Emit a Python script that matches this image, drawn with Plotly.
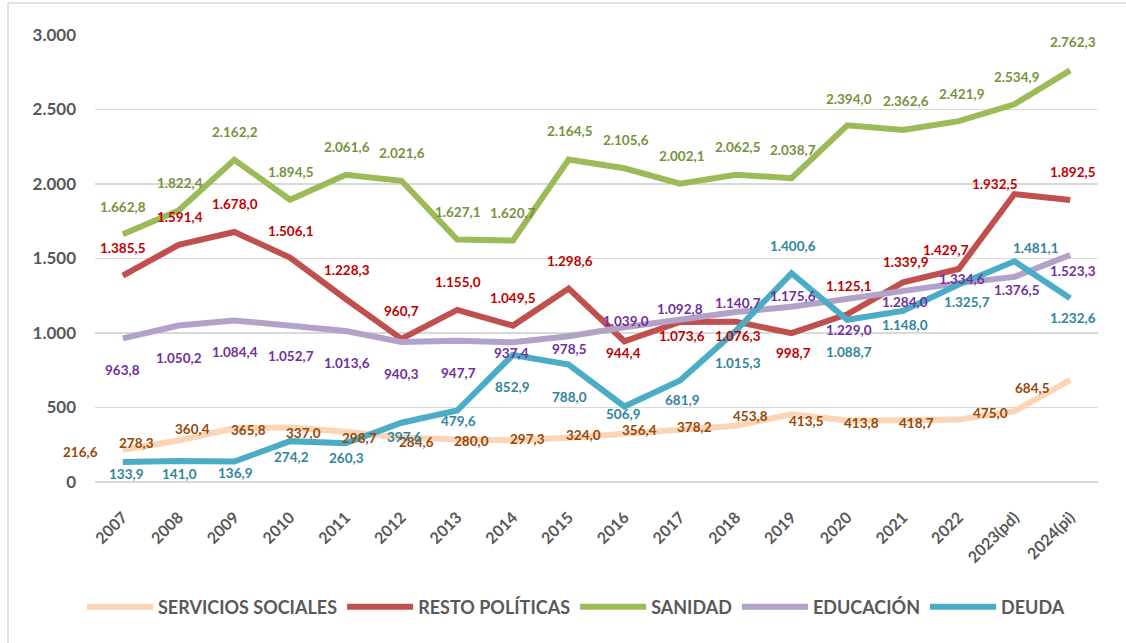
import plotly.graph_objects as go

years = ["2007", "2008", "2009", "2010", "2011", "2012", "2013", "2014", "2015",
         "2016", "2017", "2018", "2019", "2020", "2021", "2022", "2023(pd)", "2024(pi)"]

servicios_sociales = [216.6, 278.3, 360.4, 365.8, 337.0, 298.7, 284.6, 280.0, 297.3,
                      324.0, 356.4, 378.2, 453.8, 413.5, 413.8, 418.7, 475.0, 684.5]
resto_politicas = [1385.5, 1591.4, 1678.0, 1506.1, 1228.3, 960.7, 1155.0, 1049.5, 1298.6,
                   944.4, 1073.6, 1076.3, 998.7, 1125.1, 1339.9, 1429.7, 1932.5, 1892.5]
sanidad = [1662.8, 1822.4, 2162.2, 1894.5, 2061.6, 2021.6, 1627.1, 1620.7, 2164.5,
           2105.6, 2002.1, 2062.5, 2038.7, 2394.0, 2362.6, 2421.9, 2534.9, 2762.3]
educacion = [963.8, 1050.2, 1084.4, 1052.7, 1013.6, 940.3, 947.7, 937.4, 978.5,
             1039.0, 1092.8, 1140.7, 1175.6, 1229.0, 1284.0, 1334.6, 1376.5, 1523.3]
deuda = [133.9, 141.0, 136.9, 274.2, 260.3, 397.6, 479.6, 852.9, 788.0,
         506.9, 681.9, 1015.3, 1400.6, 1088.7, 1148.0, 1325.7, 1481.1, 1232.6]

# label offsets in pixels (dx right, dy down) relative to each point
ss_dx = [-42, -42, -42, -42, -42, -42, -41, -41, -41, -41, -41, -41, -41, -41, -41, -42, -24, -38]
ss_dy = [2, 2, 1, 2, 1, 1, 2, 1, 1, 1, 1, 1, 2, 1, 3, 3, 2, 8]
deuda_dx = [4, 1, 1, 1, 1, 3, 1, 0, 1, -1, 2, 2, 1, 2, 2, 8, 22, 3]
deuda_dy = [12, 13, 11, 16, 15, 14, 10, 32, 32, 8, 20, 32, -27, 32, 14, 18, -13, 20]
edu_dx = [0, 0, 1, 1, 1, 0, 1, -1, 1, 2, 0, 2, 1, 2, 2, 3, 3, 3]
edu_dy = [32, 32, 32, 31, 32, 32, 32, 11, 13, -6, -10, -9, -11, 31, 11, -4, 13, 16]
resto_dx = [0, 1, 1, 1, 1, 0, 1, 0, 1, -1, 2, 2, 2, 2, 3, -13, -19, 3]
resto_dy = [-28, -28, -28, -27, -29, -28, -28, -28, -28, 12, 14, 14, 20, -28, -20, -19, -10, -28]
san_dx = [0, 1, 1, 1, 1, 1, 1, 0, 1, 2, 2, 2, 1, 2, 3, 3, 3, 3]
san_dy = [-27, -27, -28, -28, -28, -28, -28, -28, -28, -28, -28, -28, -28, -26, -29, -27, -27, -28]

series = [
    ("SERVICIOS SOCIALES", servicios_sociales, "#FBD5B5", "#984807", ss_dx, ss_dy),
    ("RESTO POLÍTICAS", resto_politicas, "#C0504D", "#C00000", resto_dx, resto_dy),
    ("SANIDAD", sanidad, "#9BBB59", "#76923C", san_dx, san_dy),
    ("EDUCACIÓN", educacion, "#B3A2C7", "#7030A0", edu_dx, edu_dy),
    ("DEUDA", deuda, "#4BACC6", "#31859C", deuda_dx, deuda_dy),
]


def fmt(v):
    s = f"{v:,.1f}"
    return s.replace(",", "X").replace(".", ",").replace("X", ".")


FONT = "Lato"
fig = go.Figure()
annotations = []
for name, vals, lc, tc, dxs, dys in series:
    fig.add_trace(go.Scatter(
        x=years, y=vals, name=name, mode="lines",
        line=dict(color=lc, width=6),
        hoverinfo="skip",
    ))
    for i, (v, dx, dy) in enumerate(zip(vals, dxs, dys)):
        annotations.append(dict(
            x=i, y=v, xref="x", yref="y", text=fmt(v), showarrow=False,
            xshift=dx, yshift=-dy,
            font=dict(family=FONT, size=13.5, color=tc, weight="bold"),
        ))

W, H = 1126, 643
L, R, T, B = 95, 28, 35, 161
pw, ph = W - L - R, H - T - B


def px2paper_x(px):
    return (px - L) / pw


def px2paper_y(py):
    return (H - B - py) / ph


fig.update_layout(
    width=W, height=H, autosize=False,
    margin=dict(l=L, r=R, t=T, b=B),
    paper_bgcolor="white", plot_bgcolor="white",
    separators=",.",
    font=dict(family=FONT, color="#595959"),
    showlegend=True,
    hovermode=False,
    legend=dict(
        orientation="h", x=px2paper_x(576), xanchor="center",
        y=px2paper_y(607), yanchor="middle",
        font=dict(family=FONT, size=18, color="#595959", weight="bold"),
        itemwidth=66, tracegroupgap=0,
    ),
    xaxis=dict(
        type="category", categoryorder="array", categoryarray=years,
        range=[-0.5, len(years) - 0.5],
        showgrid=False, zeroline=False, showline=False,
        tickangle=-45, ticks="",
        tickfont=dict(family=FONT, size=16, color="#595959", weight="bold"),
        ticklabelstandoff=22,
    ),
    yaxis=dict(
        range=[0, 3000], dtick=500, tick0=0,
        showgrid=True, gridcolor="#D9D9D9", gridwidth=1.5,
        zeroline=True, zerolinecolor="#D9D9D9", zerolinewidth=1.5,
        showline=False, separatethousands=True, ticks="",
        tickfont=dict(family=FONT, size=17, color="#595959", weight="bold"),
        ticklabelstandoff=18,
    ),
    annotations=annotations,
    shapes=[dict(
        type="rect", xref="paper", yref="paper",
        x0=px2paper_x(8), x1=px2paper_x(1140),
        y0=px2paper_y(660), y1=px2paper_y(3),
        line=dict(color="#D9D9D9", width=1.5), fillcolor="rgba(0,0,0,0)",
        layer="below",
    )],
)

fig.write_html(
    "out.html",
    config={"displayModeBar": False, "staticPlot": True},
    post_script="document.body.style.margin='0';document.body.style.overflow='hidden';",
)
